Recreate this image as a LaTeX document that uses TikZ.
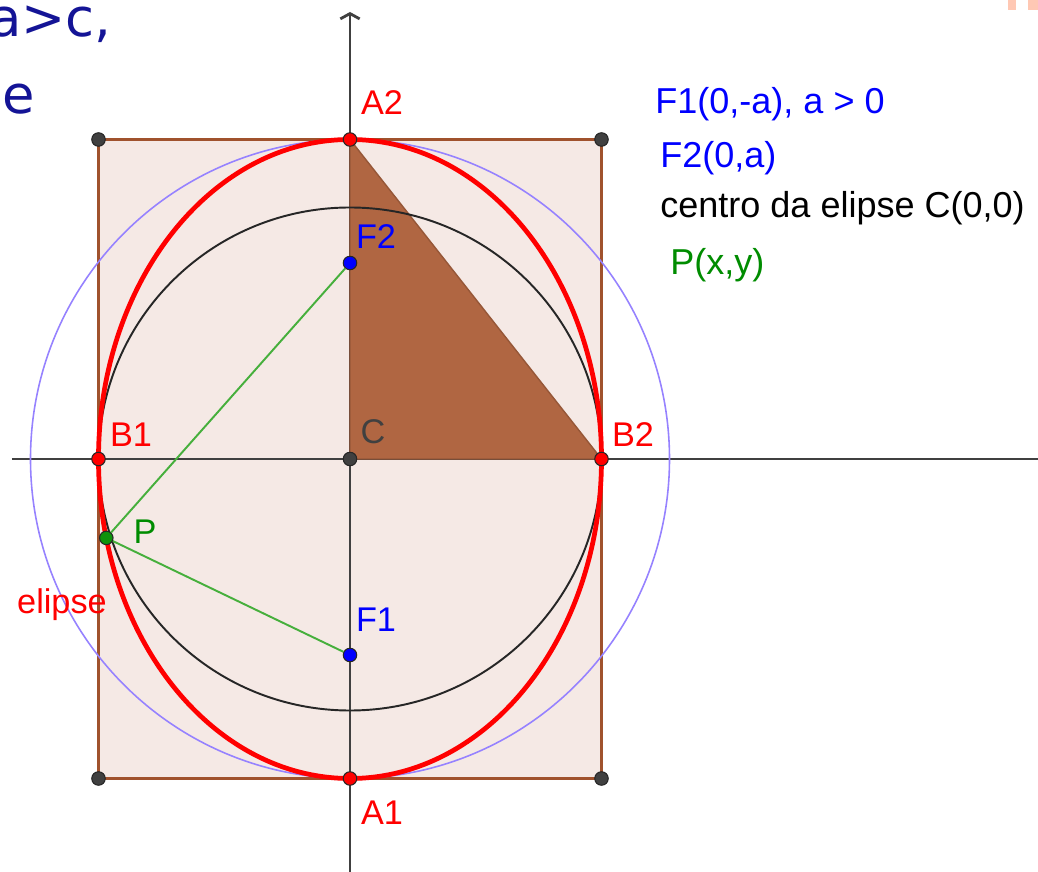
\documentclass[tikz,border=0pt]{standalone}
\usepackage{fontspec}
\setmainfont{Liberation Sans}
\newfontfamily\slidefont{DejaVu Sans}
\usepackage{tikz}
\usetikzlibrary{positioning, arrows.meta}

\definecolor{boxfill}{RGB}{245,233,229}
\definecolor{boxedge}{RGB}{160,82,45}
\definecolor{trifill}{RGB}{176,102,66}
\definecolor{lilac}{RGB}{150,130,255}
\definecolor{focusblue}{RGB}{0,0,255}
\definecolor{seggreen}{RGB}{70,175,60}
\definecolor{lblgreen}{RGB}{0,140,0}
\definecolor{ptgray}{RGB}{64,64,64}
\definecolor{slideblue}{RGB}{20,20,150}
\definecolor{salmon}{RGB}{255,200,180}

\begin{document}
\begin{tikzpicture}[
    pt/.style={circle, draw=black!85, line width=0.6pt, inner sep=0pt, minimum size=0.27cm},
    lbl/.style={font=\fontsize{19.5}{22}\selectfont, inner sep=0pt},
    info/.style={font=\fontsize{20.5}{24}\selectfont, anchor=west, inner sep=0pt},
    axis/.style={draw=ptgray, line width=1.6pt},
    seg/.style={draw=seggreen, line width=1.1pt}
]
\useasboundingbox (-7.0,-8.26) rectangle (13.76,9.18);
\clip (-7.0,-8.26) rectangle (13.76,9.18);

\coordinate (C) at (0,0);
\coordinate (A1) at (0,-6.39);
\coordinate (A2) at (0,6.39);
\coordinate (B1) at (-5.03,0);
\coordinate (B2) at (5.03,0);
\coordinate (F1) at (0,-3.92);
\coordinate (F2) at (0,3.92);
\coordinate (P) at (194.3:5.03 and 6.39);
\coordinate (xl) at (-6.76,0);
\coordinate (xr) at (14,0);
\coordinate (yt) at (0,8.94);
\coordinate (yb) at (0,-8.6);

\filldraw[fill=boxfill, draw=boxedge, line width=1.4pt] (-5.03,-6.39) rectangle (5.03,6.39);
\draw[axis] (xl) -- (xr);
\draw[axis, -{Straight Barb[length=3pt, width=11pt]}] (yb) -- (yt);
\filldraw[fill=trifill, draw=trifill!85!black, line width=0.8pt] (C) -- (A2) -- (B2) -- cycle;
\draw[lilac, line width=0.9pt] (C) circle (6.39);
\draw[black!85, line width=1.1pt] (C) circle (5.03);
\draw[red, line width=2.7pt] (C) ellipse (5.03 and 6.39);

\foreach \x/\y/\n in {-5.03/6.39/tl, 5.03/6.39/tr, -5.03/-6.39/bl, 5.03/-6.39/br}
    \node[pt, fill=ptgray] (\n) at (\x,\y) {};

\node[pt, fill=ptgray] (c) at (C) {};
\node[pt, fill=red] (a1) at (A1) {};
\node[pt, fill=red] (a2) at (A2) {};
\node[pt, fill=red] (b1) at (B1) {};
\node[pt, fill=red] (b2) at (B2) {};
\node[pt, fill=focusblue] (f1) at (F1) {};
\node[pt, fill=focusblue] (f2) at (F2) {};
\node[pt, fill=lblgreen!80!seggreen] (p) at (P) {};

\draw[seg] (p) -- (f2);
\draw[seg] (p) -- (f1);

\node[lbl, red] (a2lbl) at (0.64,7.12) {A2};
\node[lbl, red] (a1lbl) at (0.64,-7.08) {A1};
\node[lbl, red] (b1lbl) at (-4.38,0.48) {B1};
\node[lbl, red] (b2lbl) at (5.66,0.48) {B2};
\node[lbl, ptgray] (clbl) at (0.46,0.54) {C};
\node[lbl, focusblue] (f2lbl) at (0.52,4.44) {F2};
\node[lbl, focusblue] (f1lbl) at (0.52,-3.22) {F1};
\node[lbl, lblgreen] (plbl) at (-4.10,-1.46) {P};
\node[lbl, red] (elbl) at (-5.76,-2.92) {elipse};

\node[info, focusblue] (f1info) at (6.10,7.10) {F1(0,-a), a > 0};
\node[info, focusblue] (f2info) at (6.20,6.02) {F2(0,a)};
\node[info, black] (cinfo) at (6.20,5.02) {centro da elipse C(0,0)};
\node[info, lblgreen] (pinfo) at (6.40,3.88) {P(x,y)};

\node[anchor=base west, inner sep=0pt, slideblue, font=\slidefont\fontsize{30}{36}\selectfont] (cond) at (-7.22,8.44) {a>c,};
\node[anchor=base west, inner sep=0pt, slideblue, font=\slidefont\fontsize{30}{36}\selectfont] (ecc) at (-6.96,6.9) {e};

\fill[salmon] (13.16,9.18) rectangle (13.32,8.98);
\fill[salmon] (13.56,9.18) rectangle (13.76,8.98);
\end{tikzpicture}
\end{document}
